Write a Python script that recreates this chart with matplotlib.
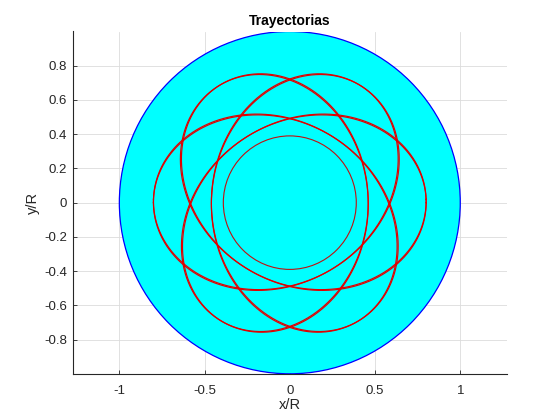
import numpy as np
import matplotlib
matplotlib.use("Agg")
import matplotlib.pyplot as plt
from matplotlib.patches import Circle

# ---- values ----
domain_radius = 1.0            # cyan disc (x/R, y/R)
loop_amplitudes = [0.63, 0.17]  # epicycle radii of the rosette trajectories
loop_frequencies = [2, -1]      # relative angular rates of the two terms
mirror_signs = [1, -1]          # trajectory and its mirror image
pass_drift_deg = [0.0, 1.4]     # slight precession between the two passes
inner_orbit_radius = 0.39       # circular trajectory
x_ticks = [-1, -0.5, 0, 0.5, 1]
x_ticklabels = ["-1", "-0.5", "0", "0.5", "1"]
y_ticks = [-0.8, -0.6, -0.4, -0.2, 0, 0.2, 0.4, 0.6, 0.8]
y_ticklabels = ["-0.8", "-0.6", "-0.4", "-0.2", "0", "0.2", "0.4", "0.6", "0.8"]

plt.rcParams["font.family"] = ["Liberation Sans", "DejaVu Sans"]

fig = plt.figure(figsize=(5.6, 4.2), dpi=100)
ax = fig.add_axes([0.13, 0.11, 0.775, 0.815])

ax.add_patch(Circle((0, 0), domain_radius, facecolor=(0, 1, 1),
                    edgecolor=(0, 0, 1), linewidth=0.9, zorder=1))

t = np.linspace(0, 2 * np.pi, 3000)
for s in mirror_signs:
    z = loop_amplitudes[0] * np.exp(1j * loop_frequencies[0] * t) + \
        loop_amplitudes[1] * np.exp(1j * loop_frequencies[1] * t)
    if s < 0:
        z = -np.conj(z)
    for d in pass_drift_deg:
        zz = z * np.exp(1j * s * np.deg2rad(d))
        ax.plot(zz.real, zz.imag, color="#e00000", linewidth=0.85, zorder=3)

ax.add_patch(Circle((0, 0), inner_orbit_radius, fill=False,
                    edgecolor="#c01010", linewidth=0.8, zorder=3))

ax.set_xlim(-1.273, 1.273)
ax.set_ylim(-1, 1)
ax.set_xticks(x_ticks)
ax.set_xticklabels(x_ticklabels)
ax.set_yticks(y_ticks)
ax.set_yticklabels(y_ticklabels)

ax.set_axisbelow(True)
ax.grid(True, color="#dcdcdc", linewidth=0.6)
for side in ["top", "right"]:
    ax.spines[side].set_visible(False)
for side in ["left", "bottom"]:
    ax.spines[side].set_color("#262626")
    ax.spines[side].set_linewidth(0.8)
ax.tick_params(direction="in", length=3, width=0.6, colors="#262626",
               labelsize=9.5)
ax.tick_params(axis="x", pad=8)
ax.tick_params(axis="y", pad=4)

ax.set_title("Trayectorias", fontsize=10, fontweight="bold", pad=5)
ax.set_xlabel("x/R", fontsize=10.5, color="#262626", labelpad=1)
ax.set_ylabel("y/R", fontsize=10.5, color="#262626", labelpad=3)

fig.savefig("out.png", dpi=100)
